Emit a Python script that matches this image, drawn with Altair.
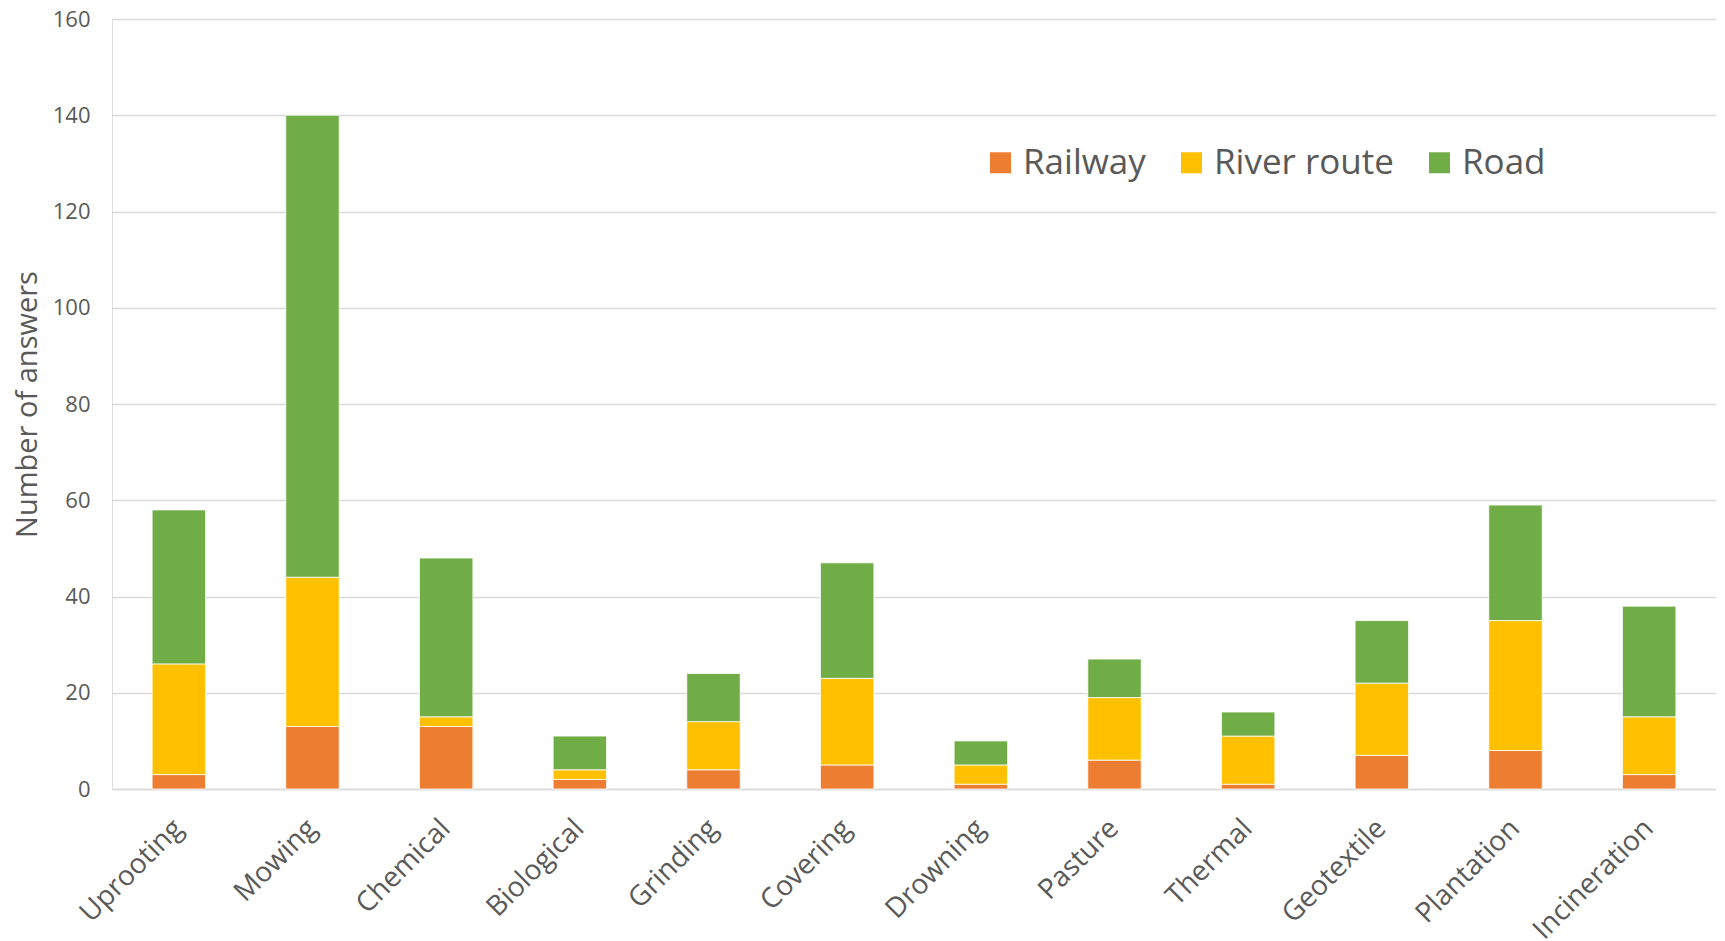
import altair as alt
import pandas as pd

categories = ["Uprooting", "Mowing", "Chemical", "Biological", "Grinding", "Covering",
              "Drowning", "Pasture", "Thermal", "Geotextile", "Plantation", "Incineration"]
railway = [3, 13, 13, 2, 4, 5, 1, 6, 1, 7, 8, 3]
river_route = [23, 31, 2, 2, 10, 18, 4, 13, 10, 15, 27, 12]
road = [32, 96, 33, 7, 10, 24, 5, 8, 5, 13, 24, 23]
series = ["Railway", "River route", "Road"]
colors = ["#ED7D31", "#FFC000", "#70AD47"]

rows = []
for i, c in enumerate(categories):
    for k, (s, vals) in enumerate(zip(series, [railway, river_route, road])):
        rows.append({"Method": c, "Transport": s, "Answers": vals[i], "ord": k})
df = pd.DataFrame(rows)

FONT = "Open Sans"
GREY = "#595959"

chart = alt.Chart(df).mark_bar(stroke="white", strokeWidth=0.8).encode(
    x=alt.X("Method:N", sort=categories,
            scale=alt.Scale(paddingInner=0.6, paddingOuter=0.3),
            axis=alt.Axis(title=None, labelAngle=-45, labelAlign="right", labelBaseline="middle",
                          labelFontSize=28, labelColor=GREY, labelFont=FONT, labelPadding=35,
                          ticks=False, domain=True, domainColor="#d9d9d9", domainWidth=1.5)),
    y=alt.Y("Answers:Q", stack="zero",
            scale=alt.Scale(domain=[0, 160], nice=False),
            axis=alt.Axis(title="Number of answers", values=list(range(0, 161, 20)),
                          titleFontSize=29, titleFont=FONT, titleColor=GREY, titleFontWeight="normal",
                          titlePadding=10,
                          labelFontSize=22, labelFont=FONT, labelColor=GREY, labelPadding=22,
                          ticks=False, domain=False, gridColor="#d9d9d9", gridWidth=1.5)),
    color=alt.Color("Transport:N", sort=series,
                    scale=alt.Scale(domain=series, range=colors),
                    legend=alt.Legend(title=None, orient="none", direction="horizontal",
                                      legendX=871, legendY=126,
                                      symbolType="square", symbolSize=440, symbolStrokeWidth=0,
                                      labelFontSize=35, labelFont=FONT, labelColor=GREY,
                                      labelOffset=5, columnPadding=28, labelLimit=400)),
    order=alt.Order("ord:Q", sort="ascending"),
).properties(
    width=1604, height=770,
    padding={"left": 5, "top": 0, "right": 0, "bottom": 0},
).configure_view(stroke=None).configure(background="white")

chart.save("out.html", embed_options={"renderer": "svg", "actions": False})
